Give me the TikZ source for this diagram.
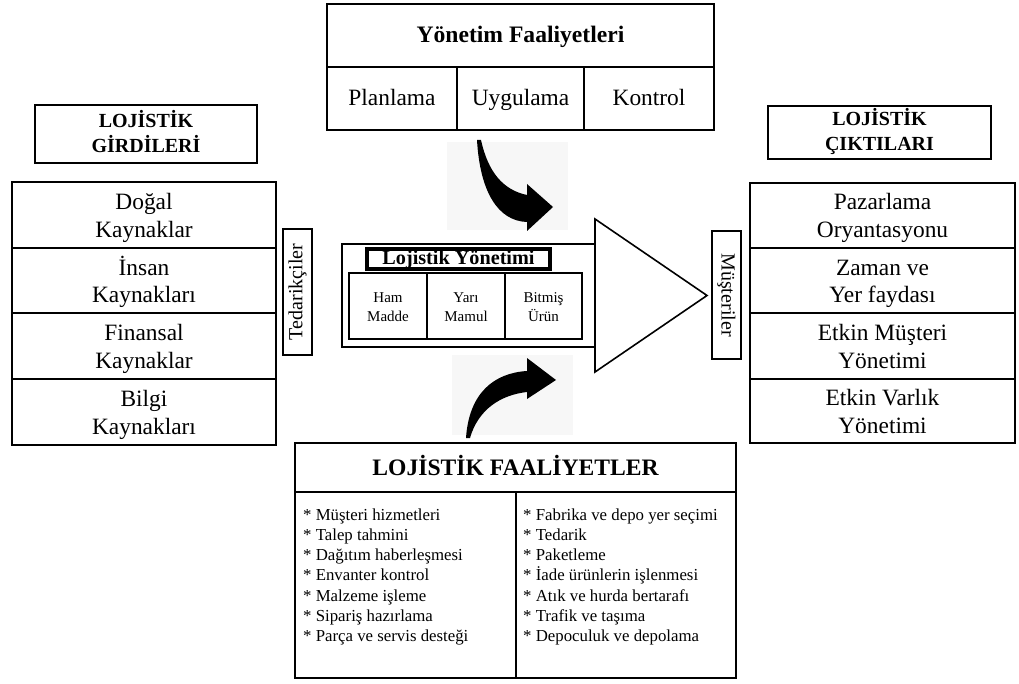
\documentclass[tikz,border=0pt]{standalone}
\usepackage{fontspec}
\setmainfont{Liberation Serif}
\begin{document}
\begin{tikzpicture}[x=1pt,y=-1pt,
  box/.style={draw, line width=2.6pt, inner sep=0pt, align=center},
  one/.style={box, font=\fontsize{23.4}{28}\selectfont, text height=21pt, text depth=6pt},
  title/.style={box, font=\fontsize{23.6}{28}\selectfont\bfseries, text height=20pt, text depth=6pt},
  cell/.style={box, font=\fontsize{23.4}{28}\selectfont, text height=53.4pt, text depth=8.4pt},
  head/.style={box, font=\fontsize{20}{25}\selectfont\bfseries, text height=44.5pt, text depth=7.5pt},
  tag/.style={box, line width=2.4pt, font=\fontsize{20}{24}\selectfont, minimum height=29pt},
  small/.style={draw, line width=2pt, inner sep=0pt, align=center, font=\fontsize{15}{19}\selectfont,
    text height=37.7pt, text depth=5.7pt},
  item/.style={inner sep=0pt, anchor=base west, font=\fontsize{16.8}{20}\selectfont},
  curved/.style={fill=black, draw=none},
  haze/.style={fill=black!3, draw=none}]
\useasboundingbox (0,0) rectangle (1019,684);

% management activities (top)
\node[title, minimum width=387pt, minimum height=63pt] (yf) at (520.5,35.5) {Yönetim Faaliyetleri};
\node[one, minimum width=130pt, minimum height=63pt] (plan) at (392,98.5) {Planlama};
\node[one, minimum width=127pt, minimum height=63pt] (uyg) at (520.5,98.5) {Uygulama};
\node[one, minimum width=130pt, minimum height=63pt] (kont) at (649,98.5) {Kontrol};

% inputs (left)
\node[head, minimum width=222pt, minimum height=58pt] (gir) at (146,134) {LOJİSTİK\\GİRDİLERİ};
\node[cell, minimum width=264pt, minimum height=66pt] (g1) at (144,215) {Doğal\\Kaynaklar};
\node[cell, minimum width=264pt, minimum height=65pt] (g2) at (144,280.5) {İnsan\\Kaynakları};
\node[cell, minimum width=264pt, minimum height=66pt] (g3) at (144,346) {Finansal\\Kaynaklar};
\node[cell, minimum width=264pt, minimum height=66pt] (g4) at (144,412) {Bilgi\\Kaynakları};

% outputs (right)
\node[head, minimum width=223pt, minimum height=53pt] (cik) at (879.5,132.5) {LOJİSTİK\\ÇIKTILARI};
\node[cell, minimum width=265pt, minimum height=65pt] (c1) at (882.5,215.5) {Pazarlama\\Oryantasyonu};
\node[cell, minimum width=265pt, minimum height=65pt] (c2) at (882.5,280.5) {Zaman ve\\Yer faydası};
\node[cell, minimum width=265pt, minimum height=66pt] (c3) at (882.5,346) {Etkin Müşteri\\Yönetimi};
\node[cell, minimum width=265pt, minimum height=64pt] (c4) at (882.5,411) {Etkin Varlık\\Yönetimi};

% suppliers and customers
\node[tag, rotate=90, minimum width=126pt] (ted) at (297.5,292) {Tedarikçiler};
\node[tag, rotate=-90, minimum width=128pt] (mus) at (726.5,295) {Müşteriler};

% central block arrow
\draw[line width=2pt] (595,244) -- (342,244) -- (342,347) -- (595,347);
\draw[line width=1.6pt, line join=miter] (595,219) -- (707,295.5) -- (595,372) -- cycle;
\node[draw, line width=3.4pt, inner sep=0pt, minimum width=183pt, minimum height=20pt,
  text height=12pt, text depth=0pt,
  font=\fontsize{20.2}{22}\selectfont\bfseries] (ly) at (458.5,259) {Lojistik Yönetimi};
\node[small, minimum width=78pt, minimum height=66pt] (ham) at (388,306) {Ham\\Madde};
\node[small, minimum width=78pt, minimum height=66pt] (yari) at (466,306) {Yarı\\Mamul};
\node[small, minimum width=77pt, minimum height=66pt] (bit) at (543.5,306) {Bitmiş\\Ürün};

% curved arrows with their light backgrounds
\fill[haze] (447,142) rectangle (568,230);
\fill[haze] (452,355) rectangle (573,435);
\fill[curved] (477,140) .. controls (480,192) and (498,221) .. (527,222)
  -- (527,231) -- (553,207) -- (527,184) -- (527,195)
  .. controls (503,190) and (488,172) .. (481,140) -- cycle;
\fill[curved] (466,438) .. controls (469,393) and (494,373) .. (527,371)
  -- (527,358) -- (556,380) -- (527,399) -- (527,392)
  .. controls (500,395) and (478,410) .. (470,438) -- cycle;

% logistics activities (bottom)
\node[title, minimum width=441pt, minimum height=49pt, text height=21pt] (fa) at (515.5,467.5) {LOJİSTİK FAALİYETLER};
\node[draw, line width=2.6pt, minimum width=221pt, minimum height=186pt] (fl) at (405.5,585) {};
\node[draw, line width=2.6pt, minimum width=220pt, minimum height=186pt] (fr) at (626,585) {};
\foreach \t [count=\i] in {Müşteri hizmetleri, Talep tahmini, Dağıtım haberleşmesi,
    Envanter kontrol, Malzeme işleme, Sipariş hazırlama, Parça ve servis desteği}
  \node[item] (la\i) at (303,{520+20.3*(\i-1)}) {* \t};
\foreach \t [count=\i] in {Fabrika ve depo yer seçimi, Tedarik, Paketleme,
    İade ürünlerin işlenmesi, Atık ve hurda bertarafı, Trafik ve taşıma, Depoculuk ve depolama}
  \node[item] (ra\i) at (523,{520+20.3*(\i-1)}) {* \t};
\end{tikzpicture}
\end{document}
